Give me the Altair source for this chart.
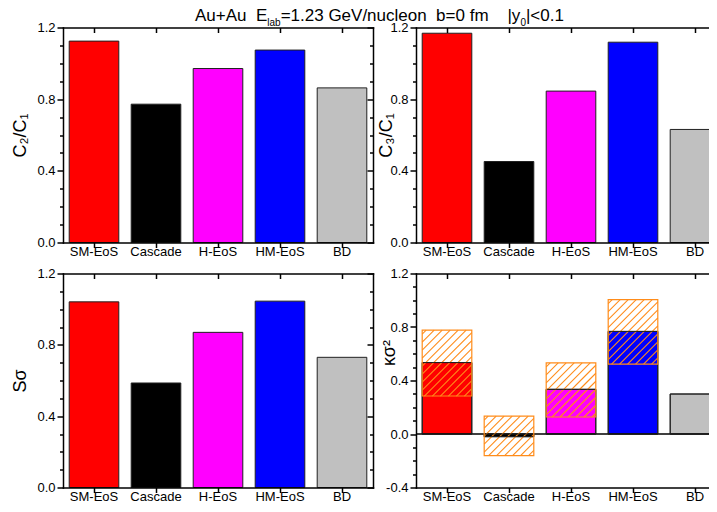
import altair as alt
import pandas as pd
import numpy as np

# ---------------- data ----------------
models = ["SM-EoS", "Cascade", "H-EoS", "HM-EoS", "BD"]
bar_colors = ["#FF0000", "#000000", "#FF00FF", "#0000FF", "#C0C0C0"]

c2_c1 = [1.124, 0.772, 0.971, 1.074, 0.863]
c3_c1 = [1.168, 0.452, 0.845, 1.118, 0.631]
s_sigma = [1.041, 0.586, 0.870, 1.045, 0.730]
k_sigma2 = [0.534, -0.020, 0.334, 0.767, 0.299]

band_models = ["SM-EoS", "Cascade", "H-EoS", "HM-EoS"]
k_band_lo = [0.284, -0.162, 0.127, 0.522]
k_band_hi = [0.776, 0.134, 0.532, 1.005]

# ---------------- style ----------------
FONT = "Liberation Sans"
W = 310
H_TOP = 215
H_BOT = 214
HATCH = "#FF8C1A"
PAD_IN, PAD_OUT = 0.2, 0.1
STEP = W / (len(models) - PAD_IN + 2 * PAD_OUT)
BANDW = STEP * (1 - PAD_IN)
XSCALE = alt.Scale(domain=models, paddingInner=PAD_IN, paddingOuter=PAD_OUT)

# Arial / Liberation Sans advance widths (per 1000 em)
ADV = {" ": 278, "\u00a0": 278, "A": 667, "u": 556, "+": 584, "E": 667, "l": 222,
       "a": 556, "b": 556, "=": 584, "1": 556, ".": 278, "2": 556, "3": 556,
       "G": 778, "e": 556, "V": 667, "/": 278, "n": 556, "c": 500, "o": 556,
       "f": 278, "m": 833, "|": 260, "y": 500, "0": 556, "<": 584}


def text_width(s, size):
    return sum(ADV.get(ch, 556) for ch in s) * size / 1000.0


COMMON = dict(zindex=1, tickColor="black", domainColor="black", grid=False)
LABEL_EXPR = "datum.value < 0 ? '-' + format(-datum.value, '.1f') : format(datum.value, '.1f')"


def ticks_for(ymin, ymax):
    majors = [float(round(v, 1)) for v in np.arange(ymin, ymax + 1e-9, 0.4)]
    minors = [float(round(v, 1)) for v in np.arange(ymin, ymax + 1e-9, 0.1)
              if min(abs(v - m) for m in majors) > 1e-6]
    return majors, minors


def build_panel(values, ytitle, ymin, ymax, height, title_x, title_dy=0, extra=(),
                front=(), indep_x=False):
    df = pd.DataFrame({"model": models, "value": values})
    majors, minors = ticks_for(ymin, ymax)
    yscale = alt.Scale(domain=[ymin, ymax], nice=False, zero=False)
    base = alt.Chart(df)

    bars = base.mark_bar(stroke="#202020", strokeWidth=1).encode(
        x=alt.X("model:N", sort=models, scale=XSCALE,
                axis=alt.Axis(orient="bottom", title=None, labelAngle=0, labelFont=FONT,
                              labelFontSize=13, labelColor="black", labelPadding=-2,
                              tickSize=5, tickWidth=1.5, domainWidth=1.5,
                              domainCap="square", **COMMON)),
        y=alt.Y("value:Q", scale=yscale,
                axis=alt.Axis(orient="left", values=majors, labelExpr=LABEL_EXPR,
                              labelFont=FONT, labelFontSize=13, labelColor="black",
                              labelPadding=2, tickSize=6, tickWidth=1.5, domainWidth=1.5,
                              domainCap="square", title=ytitle, titleFont=FONT,
                              titleFontSize=18, titleFontWeight="normal",
                              titleColor="black", titleAngle=270, titleX=title_x,
                              titleY=height / 2 + title_dy, titleAlign="center",
                              titleBaseline="middle", **COMMON)),
        color=alt.Color("model:N", scale=alt.Scale(domain=models, range=bar_colors),
                        legend=None),
    )
    ghost = base.mark_bar(opacity=0)
    top_minor = ghost.encode(
        x=alt.X("model:N", sort=models, scale=XSCALE,
                axis=alt.Axis(orient="bottom", offset=-height, labels=False, domain=True,
                              domainWidth=1.5, domainCap="square", tickSize=5,
                              tickWidth=1.5, title=None, **COMMON)),
        y=alt.Y("value:Q", axis=alt.Axis(orient="left", values=minors, labels=False,
                                         domain=False, tickSize=3.5, tickWidth=1.5,
                                         title=None, **COMMON)),
    )
    right_major = ghost.encode(
        x=alt.X("model:N", sort=models, scale=XSCALE, axis=None),
        y=alt.Y("value:Q", axis=alt.Axis(orient="left", offset=-W, values=majors,
                                         labels=False, domain=True, domainWidth=1.5,
                                         domainCap="square", tickSize=6, tickWidth=1.5,
                                         title=None, **COMMON)),
    )
    right_minor = ghost.encode(
        x=alt.X("model:N", sort=models, scale=XSCALE, axis=None),
        y=alt.Y("value:Q", axis=alt.Axis(orient="left", offset=-W, values=minors,
                                         labels=False, domain=False, tickSize=3.5,
                                         tickWidth=1.5, title=None, **COMMON)),
    )
    layers = [bars] + list(extra) + [top_minor, right_major, right_minor] + list(front)
    lay = alt.layer(*layers).resolve_axis(x="independent", y="independent")
    if indep_x:
        lay = lay.resolve_scale(x="independent")
    return lay.properties(width=W, height=height)


# ---------- kappa sigma^2 extras: zero line + hatched bands ----------
K_MIN, K_MAX = -0.4, 1.2
PPU = H_BOT / (K_MAX - K_MIN)
zero_line = alt.Chart(pd.DataFrame({"z": [0]})).mark_rule(
    color="black", strokeWidth=1.5).encode(y=alt.YDatum(0, axis=None))

# diagonal hatch strokes, derived from each band's lo/hi and its category slot
stripe_rows = []
for m, lo, hi in zip(band_models, k_band_lo, k_band_hi):
    i = models.index(m)
    xl = (i + 0.5) * STEP - BANDW / 2
    xr = xl + BANDW
    yt = (K_MAX - hi) * PPU
    yb = (K_MAX - lo) * PPU
    c = xl + yt + 4.0
    while c < xr + yb:
        xa = max(xl, c - yb)
        xb = min(xr, c - yt)
        if xb - xa > 0.3:
            stripe_rows.append({"x": xa / STEP, "x2": xb / STEP,
                                "y": K_MAX - (c - xa) / PPU,
                                "y2": K_MAX - (c - xb) / PPU})
        c += 8.0
stripes = alt.Chart(pd.DataFrame(stripe_rows)).mark_rule(
    color=HATCH, strokeWidth=1.1).encode(
    x=alt.X("x:Q", scale=alt.Scale(domain=[0, len(models)], nice=False, zero=False),
            axis=None),
    x2="x2:Q",
    y=alt.Y("y:Q", axis=None),
    y2="y2:Q",
)

k_df = pd.DataFrame({"model": models, "value": k_sigma2})
bar_outline = alt.Chart(k_df).mark_bar(fill="transparent", stroke="#202020",
                                       strokeWidth=1).encode(
    x=alt.X("model:N", sort=models, scale=XSCALE, axis=None),
    y=alt.Y("value:Q", axis=None),
)
band_df = pd.DataFrame({"model": band_models, "lo": k_band_lo, "hi": k_band_hi})
band_border = alt.Chart(band_df).mark_bar(fill="transparent", stroke=HATCH,
                                          strokeWidth=1.2).encode(
    x=alt.X("model:N", sort=models, scale=XSCALE, axis=None),
    y=alt.Y("lo:Q", axis=None),
    y2="hi:Q",
)

# ---------- figure title (with subscripts) ----------
NB = "\u00a0"
title_parts = [
    ("Au+Au" + NB * 2 + "E", 17, 0),
    ("lab", 10, 5),
    ("=1.23" + NB + "GeV/nucleon" + NB * 2 + "b=0" + NB + "fm" + NB * 4 + "|y", 17, 0),
    ("0", 10, 5),
    ("|<0.1", 17, 0),
]
TITLE_X0 = 132
TITLE_BASE = -6.2
title_layers = []
cx = TITLE_X0
tdf = pd.DataFrame({"t": [0]})
for txt, size, dy in title_parts:
    title_layers.append(
        alt.Chart(tdf).mark_text(text=txt, font=FONT, fontSize=size, align="left",
                                 baseline="alphabetic", color="black").encode(
            x=alt.value(cx), y=alt.value(TITLE_BASE + dy))
    )
    cx += text_width(txt, size)

p1 = build_panel(c2_c1, "C\u2082/C\u2081", 0.0, 1.2, H_TOP, -43, front=title_layers)
p2 = build_panel(c3_c1, "C\u2083/C\u2081", 0.0, 1.2, H_TOP, -30)
p3 = build_panel(s_sigma, "S\u03c3", 0.0, 1.2, H_BOT, -43)
p4 = build_panel(k_sigma2, "\u03ba\u03c3\u00b2", K_MIN, K_MAX, H_BOT, -27, title_dy=-28,
                 extra=[zero_line, stripes, bar_outline, band_border], indep_x=True)

chart = alt.concat(p1, p2, p3, p4, columns=2, spacing={"row": 31, "column": 43},
                   bounds="flush").properties(
    padding={"left": 3, "top": -1.5, "right": -18, "bottom": -3}
).configure_view(stroke=None)

chart.save("out.html", embed_options={"renderer": "svg", "actions": False})
